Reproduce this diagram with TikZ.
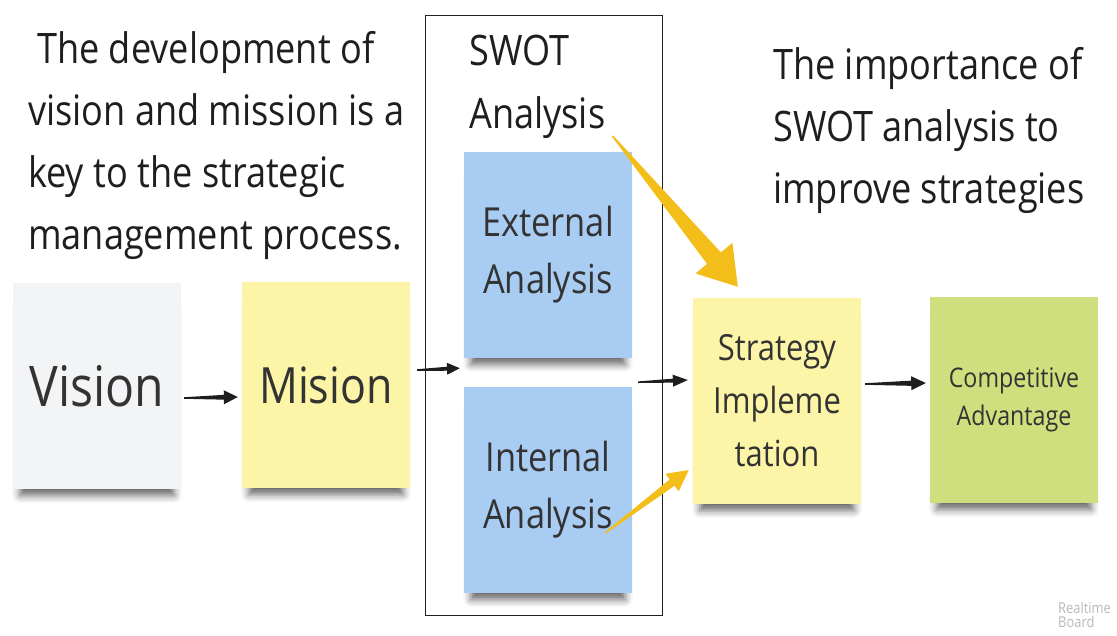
\documentclass[tikz,border=0pt]{standalone}
\usepackage{fontspec}
\setmainfont{Open Sans}[FakeStretch=0.86]
\usetikzlibrary{calc,shadows.blur}

\definecolor{paper}{HTML}{F3F4F6}
\definecolor{stickyyellow}{HTML}{FCF5A8}
\definecolor{stickyblue}{HTML}{A9CCF3}
\definecolor{stickygreen}{HTML}{D0DF7D}
\definecolor{swotyellow}{HTML}{F4BE1A}
\definecolor{inkgray}{HTML}{333333}
\definecolor{inkdark}{HTML}{1E1E1E}

\tikzset{
  note/.style={minimum width=168pt, minimum height=206pt, inner sep=0pt, align=center, text=inkgray,
    blur shadow={shadow xshift=0pt, shadow yshift=-16pt, shadow scale=0.92, shadow blur radius=8pt, shadow opacity=60}},
  caption/.style={anchor=north west, inner sep=0pt, align=left, text=inkdark, font=\fontsize{42}{62}\selectfont},
}

% tapered arrow: [colour]{from}{to}{shaft half width}{head half width}{head start}
\newcommand\wedgearrow[6][swotyellow]{%
  \coordinate (wa-m) at ($(#2)!#6!(#3)$);
  \fill[#1] ($(#2)!0.8pt!90:(#3)$) -- ($(wa-m)!#4!90:(#3)$) -- ($(wa-m)!#5!90:(#3)$) -- (#3)
    -- ($(wa-m)!#5!-90:(#3)$) -- ($(wa-m)!#4!-90:(#3)$) -- ($(#2)!0.8pt!-90:(#3)$) -- cycle;}

\begin{document}
\begin{tikzpicture}[x=1pt,y=-1pt]
  \useasboundingbox (0,0) rectangle (1117,635);

  % texts
  \node[caption] (devtxt) at (28,31) {\hspace*{9pt}The development of\\vision and mission is a\\key to the strategic\\management process.};
  \node[caption] (imptxt) at (773,47) {The importance of\\SWOT analysis to\\improve strategies};

  % SWOT frame
  \node[draw=inkdark, line width=0.9pt, minimum width=237pt, minimum height=600pt, inner sep=0pt] (swot) at (543.5,315) {};
  \node[caption, font=\fontsize{42}{63}\selectfont] (swotlbl) at (469,35) {SWOT\\Analysis};

  % sticky notes
  \node[note, fill=paper, font=\fontsize{56}{60}\selectfont] (vision) at (97,386) {Vision};
  \node[note, fill=stickyyellow, font=\fontsize{50}{60}\selectfont] (mision) at (326,385) {Mision};
  \node[note, fill=stickyblue, font=\fontsize{40}{57}\selectfont] (ext) at (548,255) {External\\Analysis};
  \node[note, fill=stickyblue, font=\fontsize{40}{57}\selectfont] (int) at (548,490) {Internal\\Analysis};
  \node[note, fill=stickyyellow, font=\fontsize{36}{53}\selectfont] (strat) at (777,401) {Strategy\\Impleme\\tation};
  \node[note, fill=stickygreen, font=\fontsize{27}{38}\selectfont] (comp) at (1014,400) {Competitive\\Advantage};

  % black arrows
  \coordinate (vm-a) at ([shift={(3,12)}]vision.east);
  \coordinate (vm-b) at ([shift={(-4,12)}]mision.west);
  \coordinate (ms-a) at ([shift={(7,-15)}]mision.east);
  \coordinate (ms-b) at ([shift={(-4,10)}]ext.south west);
  \coordinate (ss-a) at ([shift={(6,24)}]ext.south east);
  \coordinate (ss-b) at ([shift={(-5,-21)}]strat.west);
  \coordinate (sc-a) at ([shift={(4,-17)}]strat.east);
  \coordinate (sc-b) at ([shift={(-4,-17)}]comp.west);
  \wedgearrow[inkdark]{vm-a}{vm-b}{2.4pt}{7pt}{0.74}
  \wedgearrow[inkdark]{ms-a}{ms-b}{2pt}{6pt}{0.7}
  \wedgearrow[inkdark]{ss-a}{ss-b}{2pt}{6pt}{0.7}
  \wedgearrow[inkdark]{sc-a}{sc-b}{2.6pt}{7pt}{0.76}

  % yellow arrows
  \coordinate (y1-a) at ([shift={(7,-3)}]swotlbl.south east);
  \coordinate (y1-b) at ([shift={(45,-11)}]strat.north west);
  \coordinate (y2-a) at ([shift={(-27,43)}]int.east);
  \coordinate (y2-b) at ([shift={(-4,69)}]strat.west);
  \wedgearrow{y1-a}{y1-b}{9pt}{24pt}{0.81}
  \wedgearrow{y2-a}{y2-b}{4pt}{11pt}{0.8}

  \node[anchor=north west, inner sep=0pt, align=left, text=gray!55, font=\fontsize{15}{14}\selectfont] (brand) at (1058,602) {Realtime\\Board};
\end{tikzpicture}
\end{document}
